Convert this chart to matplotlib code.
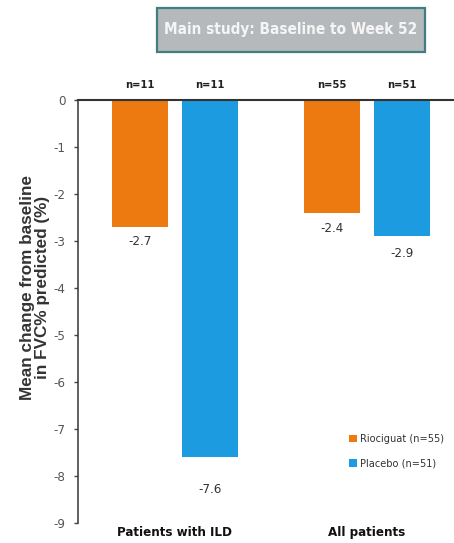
import matplotlib
matplotlib.use("Agg")
import matplotlib.pyplot as plt
from matplotlib.patches import Patch, Rectangle

plt.rcParams['font.family'] = ['DejaVu Sans']
plt.rcParams['font.stretch'] = 'condensed'

groups = ["Patients with ILD", "All patients"]
riociguat = [-2.7, -2.4]
placebo = [-7.6, -2.9]
n_riociguat = ["n=11", "n=55"]
n_placebo = ["n=11", "n=51"]
legend_labels = ["Riociguat (n=55)", "Placebo (n=51)"]
yticks = list(range(0, -10, -1))

orange = "#EC7A10"
blue = "#1C9BE0"

fig = plt.figure(figsize=(4.54, 5.43), dpi=100)
ax = fig.add_axes([0.172, 0.0368, 0.828, 0.779])

offset = 0.183
width = 0.291
xs = list(range(len(groups)))
x_r = [x - offset for x in xs]
x_p = [x + offset for x in xs]

ax.bar(x_r, riociguat, width=width, color=orange, align='center')
ax.bar(x_p, placebo, width=width, color=blue, align='center')

# value labels beneath each bar
label_gap_r = [15, 16]
label_gap_p = [32, 17]
for x, v, g in zip(x_r, riociguat, label_gap_r):
    ax.annotate(f"{v:.1f}", (x, v), xytext=(0, -g * 0.72), textcoords='offset points',
                ha='center', va='center', fontsize=9.5, color='#333333')
for x, v, g in zip(x_p, placebo, label_gap_p):
    ax.annotate(f"{v:.1f}", (x, v), xytext=(0, -g * 0.72), textcoords='offset points',
                ha='center', va='center', fontsize=9.5, color='#333333')

# sample sizes above the zero line
for x, n in zip(x_r, n_riociguat):
    ax.annotate(n, (x, 0), xytext=(0, 11), textcoords='offset points',
                ha='center', va='center', fontsize=8, fontweight='bold', color='#222222')
for x, n in zip(x_p, n_placebo):
    ax.annotate(n, (x, 0), xytext=(0, 11), textcoords='offset points',
                ha='center', va='center', fontsize=8, fontweight='bold', color='#222222')

ax.set_xlim(-0.503, 1.4525)
ax.set_ylim(-9, 0)
ax.set_yticks(yticks)
ax.set_yticklabels([str(t) for t in yticks], fontsize=9.5, color='#555555')
ax.tick_params(axis='y', direction='out', length=3, width=1, color='#444444', pad=6)
ax.set_xticks([])

for s in ['right', 'bottom']:
    ax.spines[s].set_visible(False)
ax.spines['left'].set_color('#444444')
ax.spines['top'].set_color('#333333')
ax.spines['left'].set_linewidth(1.2)
ax.spines['top'].set_linewidth(1.5)

# group names under the plot
for x, name in zip(xs, groups):
    ax.annotate(name, (x, -9), xytext=(0, -7), textcoords='offset points',
                ha='center', va='center', fontsize=9.5, fontweight='bold', color='#111111',
                annotation_clip=False)

# y-axis title
fig.text(0.077, 0.47, "Mean change from baseline\nin FVC% predicted (%)", rotation=90,
         ha='center', va='center', fontsize=12.3, fontweight='bold', color='#333333',
         fontstretch='normal', family=['Liberation Sans', 'DejaVu Sans'], linespacing=0.95)

handles = [Patch(facecolor=orange, label=legend_labels[0]),
           Patch(facecolor=blue, label=legend_labels[1])]
ax.legend(handles=handles, loc='lower right', bbox_to_anchor=(1.0, 0.105), frameon=False,
          fontsize=7.8, handlelength=0.7, handleheight=0.7, handletextpad=0.3,
          labelspacing=1.35, labelcolor='#333333')

# title banner
fig.add_artist(Rectangle((0.3458, 0.9042), 0.5903, 0.081, transform=fig.transFigure,
                         facecolor='#b6b9bc', edgecolor='#3f7f80', linewidth=1.6))
fig.text(0.641, 0.9448, "Main study: Baseline to Week 52", ha='center', va='center',
         fontsize=11, fontweight='bold', color='#f5f5f5')

fig.savefig("out.png", dpi=100)
